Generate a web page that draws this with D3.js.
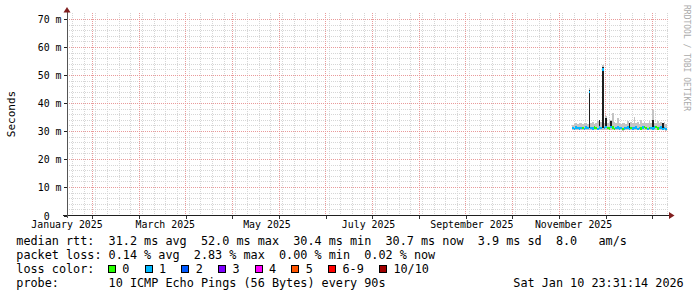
<!DOCTYPE html>
<html>
<head>
<meta charset="utf-8">
<script src="https://cdn.jsdelivr.net/npm/d3@7"></script>
<style>
  body { margin: 0; background: #fff; }
  text { font-family: "DejaVu Sans Mono", monospace; fill: #000; white-space: pre; }
</style>
</head>
<body>
<div id="chart"></div>
<script>
// x axis labels (every 2 months) and grid dates
const monthTicks = ['2025-01-01', '2025-03-01', '2025-05-01', '2025-07-01', '2025-09-01', '2025-11-01'];
const monthNames = ['January 2025', 'March 2025', 'May 2025', 'July 2025', 'September 2025', 'November 2025'];
const minorGridStart = '2025-01-04';   // weekly
const majorGridStart = '2025-01-16';   // every 4 weeks
const yTicks = [0, 10, 20, 30, 40, 50, 60, 70];

// one value per day from firstDay on (ms)
const firstDay = '2025-10-31';
const median = [31.0, 30.8, 31.2, 31.0, 30.9, 31.1, 31.0, 30.8, 31.2, 31.1,
  44.0, 31.0, 30.9, 31.3, 31.1, 30.8, 31.2, 31.0, 52.0,
  31.0, 31.4, 31.1, 30.9, 31.5, 31.2, 30.8, 31.0, 31.3, 30.9,
  31.0, 30.7, 30.9, 31.1, 31.2, 30.8, 31.0, 30.9, 31.1, 31.3,
  30.8, 31.0, 30.9, 31.2, 31.4, 31.0, 30.8, 31.1, 31.0, 30.9,
  31.3, 31.5, 30.9, 31.0, 31.2, 30.8, 31.1, 30.7];
// lost pings (of 10) for the colour of the median
const loss = [1, 1, 1, 1, 1, 1, 0, 1, 1, 1,
  1, 1, 1, 0, 0, 1, 1, 1, 1,
  1, 1, 0, 0, 1, 0, 0, 1, 1, 1,
  1, 0, 1, 1, 1, 1, 0, 1, 1, 1,
  1, 1, 0, 1, 0, 0, 1, 0, 1, 1,
  1, 0, 0, 1, 1, 1, 1, 1];
const smokeLo = [30.3, 30.2, 30.4, 30.3, 30.2, 30.3, 30.3, 30.2, 30.4, 30.3,
  30.4, 30.3, 30.2, 30.4, 30.3, 30.2, 30.4, 30.3, 30.5,
  30.3, 30.5, 30.3, 30.2, 30.5, 30.4, 30.2, 30.3, 30.4, 30.2,
  30.3, 30.1, 30.2, 30.3, 30.4, 30.2, 30.3, 30.2, 30.3, 30.4,
  30.2, 30.3, 30.2, 30.4, 30.5, 30.3, 30.2, 30.3, 30.3, 30.2,
  30.4, 30.5, 30.2, 30.3, 30.4, 30.2, 30.3, 30.1];
const smokeHi = [32.3, 32.6, 32.8, 32.5, 32.9, 32.7, 32.4, 32.8, 33.0, 32.6,
  45.5, 32.8, 33.2, 32.6, 32.9, 33.4, 34.0, 33.1, 53.5,
  33.0, 35.2, 32.8, 33.1, 34.0, 36.5, 33.2, 32.7, 34.8, 32.9,
  32.6, 33.0, 32.8, 32.5, 33.6, 32.9, 33.1, 32.7, 35.0, 32.8,
  33.3, 32.6, 33.9, 32.8, 33.2, 32.7, 32.9, 33.4, 33.0, 37.5,
  32.8, 32.7, 33.5, 32.9, 33.2, 32.8, 33.3, 32.6];
// dense (dark) smoke top, null where none
const darkHi = [null, null, null, null, null, null, null, null, null, null,
  44.8, null, null, null, null, null, 34.0, null, 53.0,
  null, 34.5, null, null, 33.5, null, null, null, null, null,
  null, null, null, null, null, 33.0, null, null, null, null,
  null, null, null, null, null, null, null, null, null, 34.0,
  null, null, null, null, null, 33.0, null];

const lossLabels = ['0', '1', '2', '3', '4', '5', '6-9', '10/10'];
const lossColors = ['#26ff00', '#00b8ff', '#0059ff', '#7e00ff', '#ff00ff', '#ff5500', '#ff0000', '#a10000'];

const legendLines = [
  'median rtt:  31.2 ms avg  52.0 ms max  30.4 ms min  30.7 ms now  3.9 ms sd  8.0   am/s',
  'packet loss: 0.14 % avg  2.83 % max  0.00 % min  0.02 % now',
  'loss color:',
  'probe:       10 ICMP Echo Pings (56 Bytes) every 90s'
];
const stamp = 'Sat Jan 10 23:31:14 2026';

// layout
const W = 697, H = 297;
const pLeft = 67, pRight = 669, pTop = 13, pBottom = 215;
const legX = 16.3, charW = 7.1, legY0 = 245, legDY = 14;

const svg = d3.select('#chart').append('svg')
  .attr('width', W).attr('height', H)
  .style('display', 'block');

const parse = d3.utcParse('%Y-%m-%d');
const day = 864e5;
const t0 = parse('2025-01-01');
const x = d3.scaleUtc()
  .domain([t0, new Date(+t0 + 361.3 * day)])
  .range([pLeft, pRight]);
const y = d3.scaleLinear().domain([0, 72.14]).range([pBottom, pTop]);
const px = v => Math.round(v) + 0.5;

// grid
const g = svg.append('g');
const minorY = d3.range(2, 72, 2).filter(v => v % 10 !== 0);
g.selectAll('.hmin').data(minorY).join('line')
  .attr('x1', pLeft).attr('x2', pRight)
  .attr('y1', d => px(y(d))).attr('y2', d => px(y(d)))
  .attr('stroke', '#d6d6d6').attr('stroke-dasharray', '1,1');
const minorX = d3.range(+parse(minorGridStart), +x.domain()[1], 7 * day).map(d => new Date(d));
g.selectAll('.vmin').data(minorX).join('line')
  .attr('x1', d => px(x(d))).attr('x2', d => px(x(d)))
  .attr('y1', pTop).attr('y2', pBottom)
  .attr('stroke', '#d6d6d6').attr('stroke-dasharray', '1,1');
g.selectAll('.hmaj').data(yTicks.filter(v => v > 0)).join('line')
  .attr('x1', pLeft).attr('x2', pRight)
  .attr('y1', d => px(y(d))).attr('y2', d => px(y(d)))
  .attr('stroke', '#e99a9a').attr('stroke-dasharray', '1,1');
const majorX = d3.range(+parse(majorGridStart), +x.domain()[1], 28 * day).map(d => new Date(d));
g.selectAll('.vmaj').data(majorX).join('line')
  .attr('x1', d => px(x(d))).attr('x2', d => px(x(d)))
  .attr('y1', pTop).attr('y2', pBottom)
  .attr('stroke', '#e99a9a').attr('stroke-dasharray', '1,1');

// data
const d0 = parse(firstDay);
const rows = median.map((m, i) => ({
  t0: new Date(+d0 + i * day), t1: new Date(+d0 + (i + 1) * day),
  med: m, loss: loss[i], lo: smokeLo[i], hi: smokeHi[i], dark: darkHi[i]
}));
const plot = svg.append('g').attr('shape-rendering', 'crispEdges');
plot.selectAll('.smoke').data(rows).join('rect')
  .attr('x', d => x(d.t0)).attr('width', d => x(d.t1) - x(d.t0))
  .attr('y', d => y(d.hi)).attr('height', d => y(d.lo) - y(d.hi))
  .attr('fill', '#c4c4c4');
plot.selectAll('.dark').data(rows.filter(d => d.dark != null)).join('rect')
  .attr('x', d => x(d.t0)).attr('width', d => x(d.t1) - x(d.t0))
  .attr('y', d => y(d.dark)).attr('height', d => y(Math.min(d.med, 31)) - y(d.dark))
  .attr('fill', '#1e1e1e');
plot.selectAll('.med').data(rows).join('rect')
  .attr('x', d => x(d.t0)).attr('width', d => x(d.t1) - x(d.t0))
  .attr('y', d => y(d.med) - 1.2).attr('height', 2.4)
  .attr('fill', d => lossColors[d.loss]);

// axes
const yAxis = svg.append('g')
  .attr('transform', `translate(${px(pLeft)},0)`)
  .attr('color', '#222')
  .style('font-size', '9.9px')
  .call(d3.axisLeft(y).tickValues(yTicks).tickSize(4).tickSizeOuter(0).tickPadding(2)
    .tickFormat(d => d === 0 ? '0  ' : d + ' m'));
yAxis.select('.domain').remove();
yAxis.selectAll('.tick line').attr('shape-rendering', 'crispEdges')
  .attr('transform', 'translate(0,0.5)');
yAxis.selectAll('.tick text').attr('dy', null).attr('y', 4)
  .style('font-family', '"DejaVu Sans Mono", monospace').attr('fill', '#000');

const xAxis = svg.append('g')
  .attr('transform', `translate(0.5,${px(pBottom)})`)
  .attr('color', '#333')
  .call(d3.axisBottom(x).tickValues(majorX).tickSize(3).tickSizeOuter(0).tickFormat(''));
xAxis.select('.domain').remove();
xAxis.selectAll('.tick line').attr('shape-rendering', 'crispEdges');

svg.append('line').attr('x1', 63).attr('x2', pRight + 1).attr('y1', px(pBottom)).attr('y2', px(pBottom))
  .attr('stroke', '#1f1f1f').attr('shape-rendering', 'crispEdges');
svg.append('line').attr('x1', px(pLeft)).attr('x2', px(pLeft)).attr('y1', pBottom + 3).attr('y2', pTop - 1)
  .attr('stroke', '#555').attr('shape-rendering', 'crispEdges');
svg.append('path').attr('d', `M${pLeft - 3.5},${pTop - 0.5}L${pLeft + 3.5},${pTop - 0.5}L${pLeft},${pTop - 6}Z`)
  .attr('fill', '#801f1f');
svg.append('path').attr('d', `M${pRight},${pBottom - 3}L${pRight},${pBottom + 4}L${pRight + 5.5},${pBottom + 0.5}Z`)
  .attr('fill', '#801f1f');

svg.append('g').style('font-size', '9.9px')
  .selectAll('text').data(monthTicks).join('text')
  .attr('x', d => x(parse(d))).attr('y', 228)
  .attr('text-anchor', 'middle')
  .text((d, i) => monthNames[i]);

svg.append('text')
  .attr('transform', 'translate(14.5,114) rotate(-90)')
  .attr('text-anchor', 'middle').style('font-size', '11px')
  .text('Seconds');
svg.append('text')
  .attr('transform', 'translate(684,5) rotate(90)')
  .style('font-size', '8px').style('fill', '#aaa')
  .text('RRDTOOL / TOBI OETIKER');

// legend (monospace columns)
const leg = svg.append('g').style('font-size', '11.8px');
leg.selectAll('.ln').data(legendLines).join('text')
  .attr('x', legX).attr('y', (d, i) => legY0 + i * legDY)
  .attr('textLength', d => d.length * charW).attr('lengthAdjust', 'spacing')
  .text(d => d);
let bx = legX + 13 * charW - 0.6;
lossLabels.forEach((lab, i) => {
  leg.append('rect').attr('x', Math.round(bx) + 0.5).attr('y', legY0 + 2 * legDY - 7.5)
    .attr('width', 7).attr('height', 7)
    .attr('fill', lossColors[i]).attr('stroke', '#000');
  leg.append('text').attr('x', bx + 14.3).attr('y', legY0 + 2 * legDY).text(lab);
  bx += 14.3 + lab.length * charW + 15.3;
});
leg.append('text').attr('x', legX + 70 * charW).attr('y', legY0 + 3 * legDY)
  .attr('textLength', stamp.length * charW).attr('lengthAdjust', 'spacing')
  .text(stamp);
</script>
</body>
</html>
